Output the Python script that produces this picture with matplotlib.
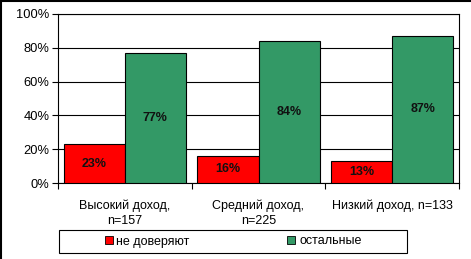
import matplotlib.pyplot as plt
import numpy as np
from matplotlib.patches import Rectangle
from matplotlib.lines import Line2D

plt.rcParams['font.family'] = ['Liberation Sans', 'DejaVu Sans']

categories = ['Высокий доход,\nn=157', 'Средний доход,\nn=225', 'Низкий доход, n=133']
distrust = [23, 16, 13]
others = [77, 84, 87]
series_names = ['не доверяют', 'остальные']
yticks = [0, 20, 40, 60, 80, 100]

W, H = 471, 259
fig = plt.figure(figsize=(W / 100, H / 100), dpi=100)
ax = fig.add_axes([58 / W, 1 - 183 / H, (459 - 58) / W, (183 - 14) / H])

x = np.arange(len(categories))
bw = 0.457
b1 = ax.bar(x - bw / 2, distrust, bw, color='#FF0000', edgecolor='black', linewidth=0.8, zorder=3)
b2 = ax.bar(x + bw / 2, others, bw, color='#339966', edgecolor='black', linewidth=0.8, zorder=3)

for bars, vals in ((b1, distrust), (b2, others)):
    for r, v in zip(bars, vals):
        ax.text(r.get_x() + r.get_width() / 2, v / 2, f'{v}%', ha='center', va='center',
                fontsize=9, fontweight='bold', color='#111111', zorder=4)

ax.set_xlim(-0.5, len(categories) - 0.5)
ax.set_ylim(0, 100)
ax.set_yticks(yticks)
ax.set_yticklabels([f'{t}%' for t in yticks], fontsize=9.3)
ax.yaxis.grid(True, color='black', linewidth=0.8, zorder=0)
ax.tick_params(axis='y', direction='out', length=4, width=0.8, pad=2)

ax.set_xticks(x)
ax.set_xticklabels(categories, fontsize=9, linespacing=1.3)
ax.tick_params(axis='x', which='major', length=0, pad=12)
ax.set_xticks(np.arange(-0.5, len(categories)), minor=True)
ax.tick_params(axis='x', which='minor', direction='out', length=4, width=0.8)
for s in ax.spines.values():
    s.set_linewidth(0.8)

# legend frame and entries
fig.patches.append(Rectangle((59 / W, 1 - 253 / H), 348 / W, 23 / H, transform=fig.transFigure,
                             fill=False, edgecolor='black', linewidth=0.8))
handles = [Rectangle((0, 0), 1, 1, facecolor='#FF0000', edgecolor='black', linewidth=0.6),
           Rectangle((0, 0), 1, 1, facecolor='#339966', edgecolor='black', linewidth=0.6)]
fig.legend(handles, series_names, loc='center', bbox_to_anchor=(233 / W, 1 - 241.5 / H),
           ncol=2, frameon=False, fontsize=9, handlelength=0.65, handleheight=0.65,
           handletextpad=0.3, columnspacing=7.8, borderpad=0)

# outer border (left and top visible)
fig.add_artist(Line2D([0.5 / W, 0.5 / W], [0, 1], transform=fig.transFigure, color='black', linewidth=1.5))
fig.add_artist(Line2D([0, 1], [1 - 0.5 / H, 1 - 0.5 / H], transform=fig.transFigure, color='black', linewidth=1.5))

fig.savefig('out.png', dpi=100)
